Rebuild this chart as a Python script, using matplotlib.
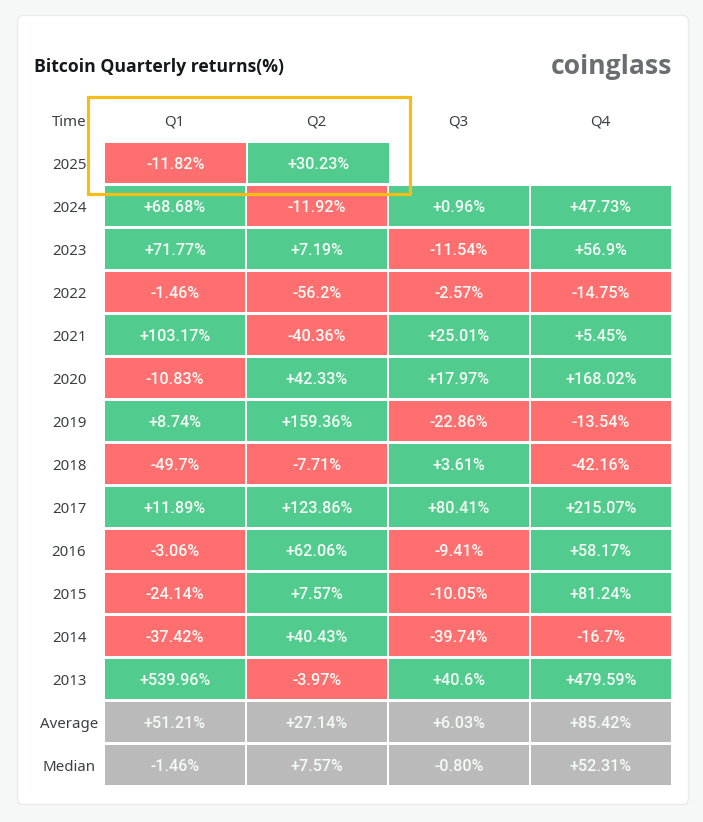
import matplotlib
matplotlib.use("Agg")
import matplotlib.pyplot as plt
from matplotlib.patches import Rectangle, FancyBboxPatch
from matplotlib.transforms import Affine2D

quarters = ["Q1", "Q2", "Q3", "Q4"]
row_labels = ["2025", "2024", "2023", "2022", "2021", "2020", "2019", "2018",
              "2017", "2016", "2015", "2014", "2013", "Average", "Median"]
r2025 = ["-11.82%", "+30.23%"]
r2024 = ["+68.68%", "-11.92%", "+0.96%", "+47.73%"]
r2023 = ["+71.77%", "+7.19%", "-11.54%", "+56.9%"]
r2022 = ["-1.46%", "-56.2%", "-2.57%", "-14.75%"]
r2021 = ["+103.17%", "-40.36%", "+25.01%", "+5.45%"]
r2020 = ["-10.83%", "+42.33%", "+17.97%", "+168.02%"]
r2019 = ["+8.74%", "+159.36%", "-22.86%", "-13.54%"]
r2018 = ["-49.7%", "-7.71%", "+3.61%", "-42.16%"]
r2017 = ["+11.89%", "+123.86%", "+80.41%", "+215.07%"]
r2016 = ["-3.06%", "+62.06%", "-9.41%", "+58.17%"]
r2015 = ["-24.14%", "+7.57%", "-10.05%", "+81.24%"]
r2014 = ["-37.42%", "+40.43%", "-39.74%", "-16.7%"]
r2013 = ["+539.96%", "-3.97%", "+40.6%", "+479.59%"]
average = ["+51.21%", "+27.14%", "+6.03%", "+85.42%"]
median = ["-1.46%", "+7.57%", "-0.80%", "+52.31%"]
rows = [r2025, r2024, r2023, r2022, r2021, r2020, r2019, r2018, r2017,
        r2016, r2015, r2014, r2013, average, median]

GREEN, RED, GRAY = "#52cc8e", "#ff6f6f", "#bababa"
W, H = 703, 822
fig = plt.figure(figsize=(W / 100, H / 100), dpi=100, facecolor="#f6f8f8")
px = Affine2D().scale(1, -1).translate(0, H)  # reference pixels -> display

card = FancyBboxPatch((17.5, 15.5), 671, 789, boxstyle="round,pad=0,rounding_size=6",
                      fc="white", ec="#e9ebeb", lw=1.0, transform=px, zorder=-5)
fig.add_artist(card)

# grid axes: x in columns, y in rows; 142 px and 43 px pitch
X0, X1, Y0, Y1 = 105, 673, 143, 788
ax = fig.add_axes([X0 / W, 1 - Y1 / H, (X1 - X0) / W, (Y1 - Y0) / H])
ax.set_xlim(0, 4)
ax.set_ylim(len(rows), 0)
ax.axis("off")
gap_x, gap_y = 2 / 142, 3 / 43
label_x = (69 - X0) / 142
text_kw = dict(ha="center", va="center_baseline")
head_kw = dict(color="#3c3f44", fontsize=10.8, family="Noto Sans", **text_kw)

for r, vals in enumerate(rows):
    # the partial top row stretches its cells by one pixel
    pitch = 143 / 142 if len(vals) < len(quarters) else 1
    for c, s in enumerate(vals):
        if row_labels[r] in ("Average", "Median"):
            col = GRAY
        else:
            col = GREEN if s.startswith("+") else RED
        cw = pitch - gap_x
        ax.add_patch(Rectangle((c * pitch, r), cw, 1 - gap_y, fc=col, ec="none"))
        ax.text(c * pitch + cw / 2, r + (1 - gap_y) / 2, s, color="#f4fbf7",
                fontsize=11.6, family="Roboto", fontweight="medium", **text_kw)
    ax.text(label_x, r + (1 - gap_y) / 2, row_labels[r], **head_kw)

for c, q in enumerate(quarters):
    ax.text(c + (1 - gap_x) / 2 - 1 / 142, -0.5 - gap_y / 2, q, **head_kw)
ax.text(label_x, -0.5 - gap_y / 2, "Time", **head_kw)

fig.text(34 / W, 1 - 67.5 / H, "Bitcoin Quarterly returns(%)", color="#15171a",
         fontsize=12.7, fontweight="bold", family="Open Sans", ha="left", va="center")
fig.text(672 / W, 1 - 66.5 / H, "coinglass", color="#6b6d70", fontsize=19.1,
         fontweight="bold", family="Open Sans", ha="right", va="center")

fig.add_artist(Rectangle((88, 97), 322, 97, fc="none", ec="#f5bd17", lw=2.3, transform=px, zorder=5))

fig.savefig("out.png", dpi=100, facecolor=fig.get_facecolor())
